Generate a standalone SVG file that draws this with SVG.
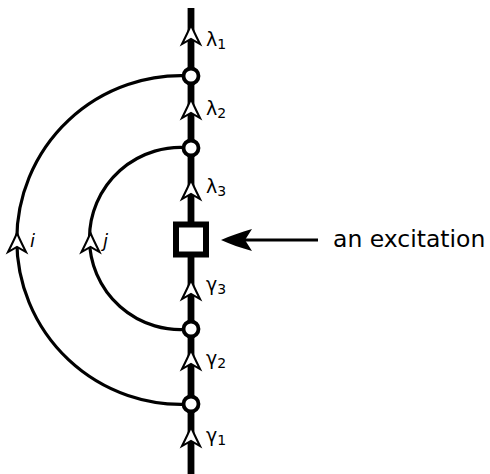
<svg xmlns="http://www.w3.org/2000/svg" width="490" height="474" viewBox="0 0 490 474">
<defs>
<style>
.main{stroke:#000;stroke-width:6.8;fill:none}
.arc{stroke:#000;stroke-width:3.2;fill:none}
.vtx{stroke:#000;stroke-width:3.8;fill:#fff}
.lbl{font-family:"DejaVu Sans",sans-serif;font-size:19px;fill:#000}
.sub{font-size:14px}
.it{font-family:"DejaVu Sans",sans-serif;font-size:18px;font-style:italic;fill:#000}
.txt{font-family:"DejaVu Sans",sans-serif;font-size:23.5px;fill:#000}
</style>
<path id="ah" d="M0,-1 C2.5,5 5.5,11 9,18 L0,13 L-9,18 C-5.5,11 -2.5,5 0,-1 Z" fill="#fff" stroke="#000" stroke-width="2" stroke-linejoin="miter"/>
</defs>
<g id="connectors">
<line class="main" x1="191" y1="8" x2="191" y2="474"/>
<path class="arc" d="M191,76 A164.3,164.3 0 1 0 191,404"/>
<path class="arc" d="M191,148 A91.1,91.1 0 1 0 191,329"/>
<use href="#ah" x="191" y="26"/>
<use href="#ah" x="191" y="100"/>
<use href="#ah" x="191" y="181"/>
<use href="#ah" x="191" y="281"/>
<use href="#ah" x="191" y="351"/>
<use href="#ah" x="191" y="428"/>
<use href="#ah" x="17" y="234"/>
<use href="#ah" x="90.5" y="234"/>
<line x1="318" y1="240" x2="240" y2="240" stroke="#000" stroke-width="3.2"/>
<path d="M221,240 C230,236 241,232 252,229 L245,240 L252,251 C241,248 230,244 221,240 Z" fill="#000"/>
</g>
<g id="v1"><circle class="vtx" cx="191" cy="76" r="7.5"/></g>
<g id="v2"><circle class="vtx" cx="191" cy="148" r="7.5"/></g>
<g id="v3"><circle class="vtx" cx="191" cy="329" r="7.5"/></g>
<g id="v4"><circle class="vtx" cx="191" cy="404" r="7.5"/></g>
<g id="excitation"><rect x="176" y="224.5" width="30" height="30" fill="#fff" stroke="#000" stroke-width="6"/></g>
<g id="labels">
<text class="lbl" x="206" y="46">λ<tspan class="sub" dy="3">1</tspan></text>
<text class="lbl" x="206" y="115">λ<tspan class="sub" dy="3">2</tspan></text>
<text class="lbl" x="206" y="193">λ<tspan class="sub" dy="3">3</tspan></text>
<text class="lbl" x="206" y="291">γ<tspan class="sub" dy="3">3</tspan></text>
<text class="lbl" x="206" y="365">γ<tspan class="sub" dy="3">2</tspan></text>
<text class="lbl" x="206" y="442">γ<tspan class="sub" dy="3">1</tspan></text>
<text class="it" x="30" y="247">i</text>
<text class="it" x="103" y="247">j</text>
<text class="txt" x="333" y="247">an excitation</text>
</g>
</svg>
